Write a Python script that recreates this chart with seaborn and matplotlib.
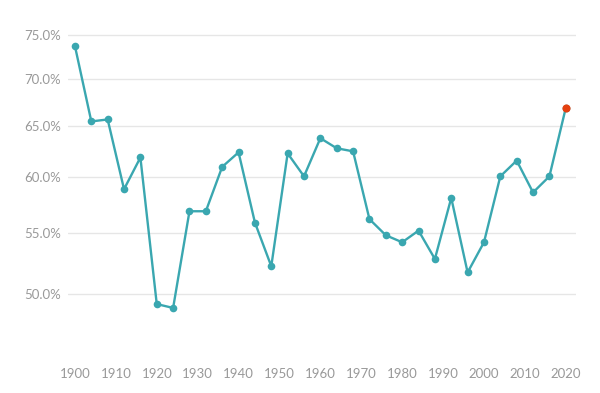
import matplotlib
matplotlib.use("Agg")
import matplotlib.pyplot as plt
import matplotlib.ticker as mticker
import seaborn as sns
import pandas as pd
import numpy as np

years = list(range(1900, 2021, 4))
turnout = [73.7, 65.5, 65.7, 58.9, 61.9, 49.2, 48.9, 56.9, 56.9, 61.0, 62.4,
           55.9, 52.2, 62.3, 60.1, 63.8, 62.8, 62.5, 56.2, 54.8, 54.2, 55.2,
           52.8, 58.1, 51.7, 54.2, 60.1, 61.6, 58.6, 60.1, 66.9]
y_ticks = [50, 55, 60, 65, 70, 75]
x_ticks = list(range(1900, 2021, 10))

df = pd.DataFrame({"year": years, "turnout": turnout})

sns.set_theme(style="white")
plt.rcParams['font.family'] = ['Lato', 'DejaVu Sans']

W, H = 600, 393
fig = plt.figure(figsize=(W / 100, H / 100), dpi=100)
ax = fig.add_axes([68 / W, 1 - 361 / H, (576 - 68) / W, (361 - 24) / H])

teal = "#3aa7b0"
sns.lineplot(data=df, x="year", y="turnout", ax=ax, color=teal, linewidth=1.7,
             marker="o", markersize=5.5, markeredgewidth=0, markeredgecolor=teal)
last = df.iloc[[-1]]
sns.scatterplot(data=last, x="year", y="turnout", ax=ax, color="#e5400f",
                s=34, linewidth=0, zorder=5)

ax.set_yscale("log")
ax.set_ylim(45.0, 76.3)
ax.set_xlim(1898.3, 2022.5)
ax.yaxis.set_major_locator(mticker.FixedLocator(y_ticks))
ax.yaxis.set_minor_locator(mticker.NullLocator())
ax.yaxis.set_major_formatter(mticker.FuncFormatter(lambda v, p: f"{v:.1f}%"))
ax.set_xticks(x_ticks)
ax.set_xticklabels([str(x) for x in x_ticks])

ax.grid(axis="y", color="#e6e6e6", linewidth=1)
ax.grid(axis="x", visible=False)
for s in ax.spines.values():
    s.set_visible(False)
ax.tick_params(axis="both", length=0, labelsize=9.5, labelcolor="#999999")
ax.tick_params(axis="y", pad=5)
ax.tick_params(axis="x", pad=5)
ax.set_xlabel("")
ax.set_ylabel("")
if ax.get_legend():
    ax.get_legend().remove()

fig.savefig("out.png", dpi=100)
